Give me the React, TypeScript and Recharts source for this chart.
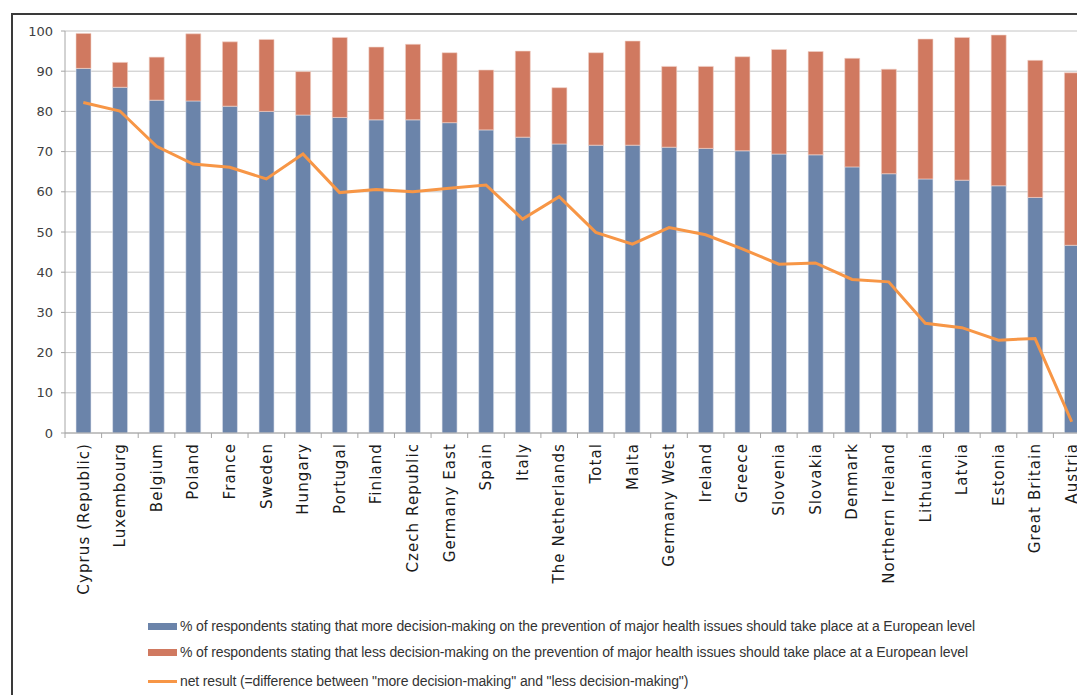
import {
  Bar,
  CartesianGrid,
  ComposedChart,
  Legend,
  Line,
  XAxis,
  YAxis,
} from "recharts";

const countries = [
  "Cyprus (Republic)", "Luxembourg", "Belgium", "Poland", "France", "Sweden",
  "Hungary", "Portugal", "Finland", "Czech Republic", "Germany East", "Spain",
  "Italy", "The Netherlands", "Total", "Malta", "Germany West", "Ireland",
  "Greece", "Slovenia", "Slovakia", "Denmark", "Northern Ireland", "Lithuania",
  "Latvia", "Estonia", "Great Britain", "Austria",
];
const moreDecision = [
  90.7, 86.0, 82.8, 82.6, 81.3, 80.0, 79.1, 78.5, 77.9, 77.9, 77.2, 75.4, 73.6,
  71.9, 71.6, 71.6, 71.1, 70.8, 70.2, 69.4, 69.2, 66.2, 64.5, 63.2, 62.9, 61.5,
  58.6, 46.7,
];
const lessDecision = [
  8.7, 6.2, 10.7, 16.7, 16.0, 17.9, 10.8, 19.9, 18.1, 18.8, 17.4, 14.9, 21.4,
  14.0, 23.0, 25.9, 20.1, 20.4, 23.4, 26.0, 25.7, 27.0, 26.0, 34.8, 35.5, 37.5,
  34.1, 42.9,
];
const netResult = [
  82.2, 80.1, 71.3, 66.9, 66.1, 63.2, 69.4, 59.8, 60.6, 60.0, 60.9, 61.7, 53.2,
  58.8, 49.9, 47.0, 51.1, 49.3, 45.8, 42.0, 42.3, 38.2, 37.6, 27.3, 26.2, 23.1,
  23.5, 2.8,
];
const yTicks = [0, 10, 20, 30, 40, 50, 60, 70, 80, 90, 100];
const legendLabels = [
  "% of respondents stating that more decision-making on the prevention of major health issues should take place at a European level",
  "% of respondents stating that less decision-making on the prevention of major health issues should take place at a European level",
  'net result (=difference between "more decision-making" and "less decision-making")',
];

const BLUE = "#6b84aa";
const RED = "#d07960";
const ORANGE = "#f79646";

const data = countries.map((name, i) => ({
  name,
  more: moreDecision[i],
  less: lessDecision[i],
  net: netResult[i],
}));

const CHART_W = 1090;
const CHART_H = 687;
const Y_W = 57;
const RIGHT = 8;
const BAND = (CHART_W - Y_W - RIGHT) / countries.length;

function CountryTick(props: any) {
  const { x, y, payload, index } = props;
  return (
    <g>
      <line x1={x - BAND / 2} x2={x - BAND / 2} y1={y} y2={y + 5} stroke="#a6a6a6" />
      {index === countries.length - 1 && (
        <line x1={x + BAND / 2} x2={x + BAND / 2} y1={y} y2={y + 5} stroke="#a6a6a6" />
      )}
      <text
        transform={`translate(${x},${y + 10}) rotate(-90)`}
        textAnchor="end"
        dy="0.35em"
        fontSize={15}
        letterSpacing={1.1}
        fill="#1a1a1a"
        fontFamily="DejaVu Sans"
      >
        {payload.value}
      </text>
    </g>
  );
}

const swatchColors = [BLUE, RED, ORANGE];
const rowTops = [15, 41, 70];

function LegendBox() {
  return (
    <div
      style={{
        position: "relative",
        height: 92,
        width: CHART_W,
        fontFamily: "'Liberation Sans', sans-serif",
        fontSize: 14,
        letterSpacing: -0.13,
        color: "#333",
      }}
    >
      {legendLabels.map((label, i) => (
        <div
          key={label}
          style={{
            position: "absolute",
            left: 140,
            top: rowTops[i],
            height: 16,
            display: "flex",
            alignItems: "center",
            whiteSpace: "nowrap",
          }}
        >
          <span
            style={{
              display: "inline-block",
              width: 29,
              height: i === 2 ? 3 : 7,
              background: swatchColors[i],
              marginRight: 3,
            }}
          />
          <span>{label}</span>
        </div>
      ))}
    </div>
  );
}

export default function App() {
  return (
    <div style={{ position: "relative", width: 1077, height: CHART_H, overflow: "hidden" }}>
      <div
        style={{
          position: "absolute",
          left: 3,
          top: 5,
          width: 2000,
          height: 2000,
          border: "2px solid #3a3a3a",
        }}
      />
      <ComposedChart
        width={CHART_W}
        height={CHART_H}
        data={data}
        margin={{ top: 23, right: RIGHT, left: 0, bottom: 0 }}
        style={{ fontFamily: "DejaVu Sans" }}
      >
        <CartesianGrid vertical={false} stroke="#c4c4c4" />
        <XAxis
          dataKey="name"
          interval={0}
          height={170}
          tickSize={0}
          tickMargin={0}
          tick={<CountryTick />}
          stroke="#a6a6a6"
        />
        <YAxis
          domain={[0, 100]}
          ticks={yTicks}
          width={Y_W}
          tickSize={4}
          tickMargin={8}
          stroke="#a6a6a6"
          tick={{ fill: "#404040", fontSize: 13, fontFamily: "DejaVu Sans" }}
          interval={0}
        />
        <Bar dataKey="more" stackId="a" fill={BLUE} barSize={15} stroke="#e4e8f0" strokeWidth={0.6} isAnimationActive={false} />
        <Bar dataKey="less" stackId="a" fill={RED} barSize={15} stroke="#f2d3ca" strokeWidth={0.6} isAnimationActive={false} />
        <Line
          dataKey="net"
          type="linear"
          stroke={ORANGE}
          strokeWidth={3}
          dot={false}
          activeDot={false}
          isAnimationActive={false}
        />
        <Legend
          verticalAlign="bottom"
          height={92}
          width={CHART_W}
          wrapperStyle={{ left: 0, bottom: 0 }}
          content={() => <LegendBox />}
        />
      </ComposedChart>
    </div>
  );
}
